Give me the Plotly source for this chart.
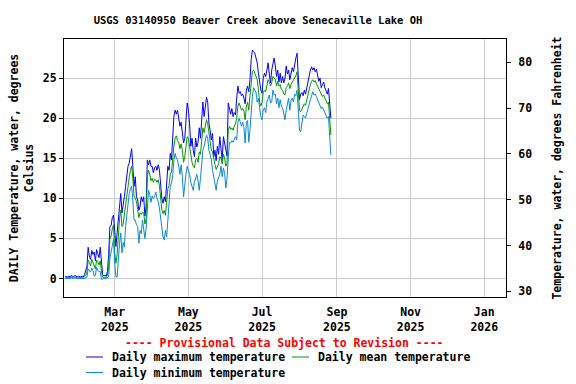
import pandas as pd
import plotly.graph_objects as go

# ---------------- data (daily values, deg C) ----------------
start_date = "2025-01-19"

max_temp = [
    # Jan 19-31
    0.3, 0.2, 0.2, 0.3, 0.2, 0.4, 0.3, 0.2, 0.4, 0.3, 0.2, 0.3, 0.2,
    # Feb
    0.2, 0.3, 0.2, 0.5, 0.9, 1.5, 3.9, 2.8, 2.4, 3.5, 3.0, 3.3, 2.2, 3.6, 3.1, 2.6, 3.9, 2.2,
    0.5, 0.3, 0.4, 0.3, 0.9, 3.0, 6.5, 6.6, 7.6, 7.9,
    # Mar
    5.2, 4.0, 5.7, 7.5, 9.4, 10.6, 8.2, 9.0, 10.2, 11.5, 12.7, 14.0, 14.4, 15.2, 16.2, 14.0,
    11.5, 12.7, 10.2, 9.8, 8.5, 9.0, 10.2, 9.6, 10.2, 7.8, 9.0, 14.8, 14.2, 14.8, 14.0,
    # Apr
    14.0, 13.2, 13.8, 14.0, 13.5, 14.2, 13.6, 11.9, 10.0, 9.4, 10.2, 9.6, 12.3, 14.0, 13.5,
    15.6, 14.8, 18.0, 20.2, 21.0, 20.5, 21.0, 20.2, 19.0, 19.5, 18.1, 16.9, 17.5, 20.6, 21.9,
    # May
    21.0, 19.3, 16.5, 17.5, 16.0, 15.2, 17.5, 16.4, 17.0, 18.8, 17.5, 20.6, 22.0, 20.2, 21.5,
    22.6, 22.0, 19.4, 18.5, 17.3, 18.1, 15.2, 16.0, 14.7, 16.5, 15.5, 17.7, 16.0, 14.7, 17.7, 16.9,
    # Jun
    15.8, 15.3, 21.9, 21.0, 20.5, 21.2, 20.2, 20.7, 20.4, 22.5, 24.0, 23.1, 23.3, 22.8, 23.0,
    22.5, 21.8, 23.5, 24.0, 23.3, 24.8, 27.3, 28.5, 28.3, 28.1, 27.5, 26.9, 25.6, 24.4, 23.5,
    # Jul
    23.1, 25.0, 25.6, 25.2, 26.0, 26.9, 25.5, 24.4, 26.0, 26.9, 27.5, 26.5, 25.2, 26.0, 24.5,
    25.6, 24.4, 25.2, 24.4, 25.0, 26.5, 25.5, 26.0, 24.8, 25.6, 26.3, 25.8, 26.8, 27.5, 28.1, 25.0,
    # Aug 1-27
    22.3, 23.0, 23.2, 22.8, 23.5, 23.0, 23.8, 24.6, 25.3, 26.0, 26.4, 26.0, 26.3, 25.8, 26.1,
    25.2, 24.6, 25.0, 23.8, 24.2, 24.5, 23.8, 23.5, 23.0, 23.7, 22.0, 20.0,
]

mean_temp = [
    0.1, 0.1, 0.1, 0.1, 0.1, 0.2, 0.1, 0.1, 0.2, 0.1, 0.1, 0.1, 0.1,
    0.1, 0.1, 0.1, 0.2, 0.4, 0.8, 2.3, 2.0, 1.6, 2.4, 2.0, 1.6, 1.2, 2.3, 2.1, 1.7, 2.2, 0.9,
    0.2, 0.1, 0.1, 0.1, 0.4, 1.5, 4.9, 5.3, 6.2, 6.7,
    3.2, 1.9, 3.0, 5.6, 7.5, 8.5, 6.5, 6.8, 8.0, 9.5, 10.8, 12.0, 12.6, 13.5, 14.0, 12.5,
    10.3, 10.0, 9.6, 8.6, 7.6, 8.2, 8.0, 8.3, 8.2, 6.8, 7.5, 12.7, 13.5, 13.0, 12.2,
    12.5, 12.0, 12.4, 12.3, 12.0, 12.3, 11.6, 9.8, 8.6, 8.1, 8.5, 7.9, 9.8, 11.2, 11.6,
    13.0, 13.3, 15.2, 16.5, 17.5, 17.8, 17.2, 17.0, 16.2, 16.8, 16.0, 14.5, 15.2, 16.8, 17.7,
    17.5, 16.3, 15.0, 14.5, 14.0, 13.8, 14.8, 15.0, 14.5, 15.8, 15.5, 17.7, 18.8, 18.2, 19.0,
    19.8, 19.3, 18.0, 17.0, 16.0, 15.8, 14.7, 14.2, 13.6, 14.0, 14.3, 15.2, 15.0, 14.3, 15.5, 15.0,
    14.0, 14.4, 18.5, 19.0, 18.6, 18.8, 18.5, 19.0, 19.3, 20.0, 21.5, 21.9, 21.4, 21.0, 21.2,
    20.9, 19.8, 21.5, 22.0, 21.0, 22.8, 24.4, 25.8, 26.0, 25.5, 25.0, 24.8, 23.5, 22.0, 21.5,
    22.0, 23.2, 23.5, 23.3, 24.3, 24.8, 24.5, 24.0, 24.4, 25.2, 25.0, 24.8, 24.0, 24.6, 24.0,
    24.2, 23.6, 23.5, 23.0, 22.9, 23.8, 24.0, 24.4, 23.7, 24.2, 24.5, 24.6, 25.0, 25.3, 25.8, 23.8,
    21.0, 20.8, 21.2, 21.5, 21.8, 21.6, 22.3, 23.0, 23.6, 24.2, 24.6, 24.8, 24.5, 24.7, 24.3,
    24.0, 23.6, 23.4, 22.9, 22.7, 22.9, 22.5, 22.2, 21.8, 22.0, 20.0, 17.9,
]

min_temp = [
    0.0, 0.0, 0.0, 0.0, 0.0, 0.1, 0.0, 0.0, 0.1, 0.0, 0.0, 0.0, 0.0,
    0.0, 0.0, 0.0, 0.0, 0.1, 0.2, 1.2, 1.0, 0.8, 1.3, 1.0, 0.3, 0.4, 1.4, 1.0, 0.9, 0.9, -0.1,
    0.0, 0.0, 0.0, 0.0, 0.1, 0.3, 2.5, 3.3, 4.4, 4.9,
    1.9, 0.2, 0.2, 3.0, 4.4, 5.7, 3.2, 4.5, 3.9, 6.5, 8.0, 9.8, 10.6, 11.2, 11.5, 9.8,
    7.3, 7.3, 6.7, 6.5, 4.4, 6.0, 5.6, 7.3, 5.8, 5.0, 6.2, 9.0, 11.0, 10.5, 9.5,
    10.3, 10.0, 10.2, 10.8, 10.0, 9.6, 8.8, 7.3, 6.5, 5.2, 4.8, 6.0, 5.2, 7.3, 8.5,
    11.5, 11.9, 12.8, 14.8, 15.6, 15.0, 14.8, 14.0, 13.0, 14.2, 12.7, 10.2, 12.2, 13.0, 14.0,
    13.5, 13.0, 12.0, 11.5, 11.0, 12.0, 12.5, 13.0, 12.2, 11.0, 12.5, 14.4, 16.0, 16.5, 17.2,
    17.9, 17.5, 16.0, 15.5, 14.8, 13.5, 12.7, 12.0, 11.0, 12.2, 12.7, 13.0, 14.0, 12.7, 13.8, 13.1,
    11.3, 12.5, 15.0, 17.0, 16.9, 17.2, 17.0, 17.5, 17.7, 17.3, 19.5, 20.0, 19.6, 19.0, 19.5,
    18.8, 16.9, 19.5, 19.7, 17.0, 18.5, 21.0, 22.7, 23.8, 23.5, 23.2, 22.0, 22.5, 21.3, 20.2,
    19.8, 21.0, 21.3, 20.7, 22.0, 22.5, 22.9, 21.9, 22.0, 23.5, 22.9, 23.0, 21.8, 22.5, 21.3,
    22.3, 21.5, 21.3, 20.5, 19.8, 21.0, 22.0, 22.5, 21.0, 22.2, 22.5, 22.0, 23.0, 22.8, 23.5, 21.0,
    18.5, 18.3, 19.5, 20.4, 20.2, 20.0, 20.6, 21.3, 21.8, 22.3, 22.8, 23.3, 22.9, 23.0, 22.7,
    22.3, 22.0, 21.6, 21.2, 21.4, 21.0, 20.8, 20.4, 20.0, 20.2, 17.5, 15.4,
]

tick_dates = ["2025-03-01", "2025-05-01", "2025-07-01", "2025-09-01", "2025-11-01", "2026-01-01"]
tick_labels = ["Mar<br>2025", "May<br>2025", "Jul<br>2025", "Sep<br>2025", "Nov<br>2025", "Jan<br>2026"]
c_ticks = [0, 5, 10, 15, 20, 25]
f_ticks = [30, 40, 50, 60, 70, 80]

series_names = ["Daily maximum temperature", "Daily mean temperature", "Daily minimum temperature"]
series_colors = ["#0000ff", "#009a00", "#0a8ad2"]

dates = pd.date_range(start_date, periods=len(max_temp), freq="D")

# ---------------- layout geometry ----------------
W, H = 576, 384
L, R, T, B = 64, 506, 39, 297
def px(x):
    return (x - L) / (R - L)
def py(y):
    return (B - y) / (B - T)

FONT = "DejaVu Sans Mono"
fnt = dict(family=FONT, size=11.5, color="black", weight="bold")

fig = go.Figure()
for vals, name, col in zip([max_temp, mean_temp, min_temp], series_names, series_colors):
    fig.add_trace(go.Scatter(x=dates, y=vals, mode="lines", name=name,
                             line=dict(color=col, width=1), showlegend=False))

# invisible companion on Fahrenheit axis so that the right axis is drawn
fig.add_trace(go.Scatter(x=dates, y=[v * 1.8 + 32 for v in mean_temp], yaxis="y2",
                         mode="lines", line=dict(width=0), opacity=0,
                         showlegend=False, hoverinfo="skip"))

fig.update_layout(
    width=W, height=H,
    margin=dict(l=L, r=W - R, t=T, b=H - B, autoexpand=False),
    paper_bgcolor="white", plot_bgcolor="white",
    font=fnt,
    title=dict(text="USGS 03140950 Beaver Creek above Senecaville Lake OH",
               font=dict(family=FONT, size=10.5, color="black", weight="bold"),
               xref="container", yref="container", x=258 / W, xanchor="center",
               y=1 - 20 / H, yanchor="middle"),
    xaxis=dict(type="date", range=["2025-01-18", "2026-01-19"],
               tickvals=tick_dates, ticktext=tick_labels, ticks="",
               showgrid=True, gridcolor="#cccccc", gridwidth=1,
               showline=True, linecolor="black", linewidth=1, mirror=True,
               zeroline=False, tickfont=fnt, ticklabelstandoff=4),
    yaxis=dict(range=[-2.3, 29.875], tickvals=c_ticks, ticks="outside", ticklen=4,
               tickcolor="black", showgrid=True, gridcolor="#cccccc", gridwidth=1,
               showline=True, linecolor="black", linewidth=1, mirror=True,
               zeroline=False, tickfont=fnt,
               title=dict(text="DAILY Temperature, water, degrees<br>Celsius",
                          font=dict(family=FONT, size=11.5, color="black", weight="bold"),
                          standoff=6)),
    yaxis2=dict(range=[28.75, 85.1], tickvals=f_ticks, overlaying="y", side="right",
                ticks="outside", ticklen=4, tickcolor="black", showgrid=False,
                showline=False, zeroline=False, tickfont=fnt, ticklabelstandoff=5,
                title=dict(text="Temperature, water, degrees Fahrenheit",
                           font=dict(family=FONT, size=11.5, color="black", weight="bold"),
                           standoff=21)),
)

# provisional data note
fig.add_annotation(text="---- Provisional Data Subject to Revision ----",
                   xref="paper", yref="paper", x=px(284), y=py(343),
                   xanchor="center", yanchor="middle", showarrow=False,
                   font=dict(family=FONT, size=11.5, color="#ff0000", weight="bold"))

# legend (swatches + labels)
legend_pos = [(86, 357), (292, 357), (86, 372.5)]
for (lx, ly), name, col in zip(legend_pos, series_names, series_colors):
    fig.add_shape(type="line", xref="paper", yref="paper",
                  x0=px(lx), x1=px(lx + 17), y0=py(ly), y1=py(ly),
                  line=dict(color=col, width=1))
    fig.add_annotation(text=name, xref="paper", yref="paper",
                       x=px(lx + 24), y=py(ly), xanchor="left", yanchor="middle",
                       showarrow=False, font=fnt)

# page without default body margin so the figure sits at the window's top-left
fig.write_html("out.html", config={"displayModeBar": False},
               post_script="document.body.style.margin='0';")
